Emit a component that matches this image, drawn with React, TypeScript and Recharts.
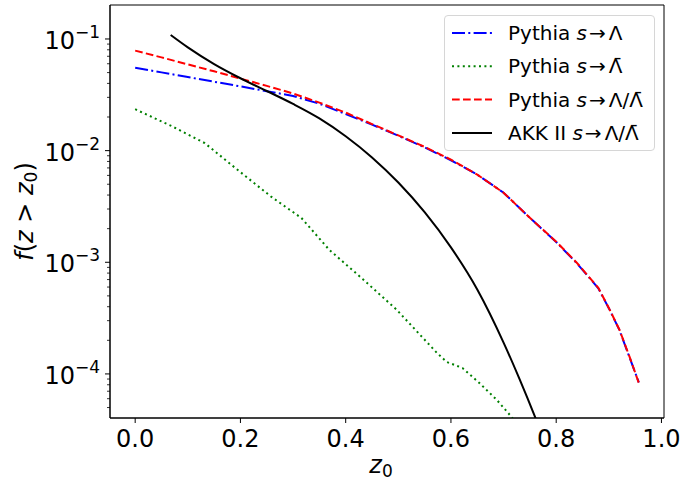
import React from 'react';
import { LineChart, Line, XAxis, YAxis, ReferenceArea, Legend } from 'recharts';

const FONT = '"DejaVu Sans", Verdana, sans-serif';

// Pythia s -> Lambda
const zLambda = [0, 0.05, 0.1, 0.15, 0.2, 0.25, 0.3, 0.35, 0.4, 0.45, 0.5, 0.55, 0.6, 0.65, 0.7, 0.75, 0.8, 0.84, 0.88, 0.9, 0.92, 0.94, 0.957];
const fLambda = [0.0553, 0.0502, 0.0456, 0.0414, 0.0376, 0.0341, 0.0309, 0.0263, 0.0213, 0.0171, 0.0136, 0.0107, 0.0082, 0.0061, 0.0042, 0.0025, 0.00152, 0.00097, 0.000585, 0.000388, 0.000248, 0.000138, 0.000084];

// Pythia s -> anti-Lambda
const zAntiLambda = [0, 0.069, 0.132, 0.195, 0.259, 0.316, 0.369, 0.432, 0.497, 0.573, 0.592, 0.622, 0.654, 0.687, 0.715, 0.73];
const fAntiLambda = [0.0235, 0.0166, 0.0117, 0.0067, 0.00385, 0.00249, 0.00129, 0.00071, 0.000375, 0.000155, 0.000128, 0.000113, 0.000083, 0.0000586, 0.0000413, 0.000033];

// Pythia s -> Lambda / anti-Lambda
const zBoth = [0, 0.05, 0.1, 0.15, 0.2, 0.25, 0.3, 0.35, 0.4, 0.45, 0.5, 0.55, 0.6, 0.65, 0.7, 0.75, 0.8, 0.84, 0.88, 0.9, 0.92, 0.94, 0.957];
const fBoth = [0.0786, 0.0684, 0.0592, 0.0513, 0.0442, 0.038, 0.0325, 0.0269, 0.0219, 0.0173, 0.0137, 0.0108, 0.0083, 0.0061, 0.0042, 0.0025, 0.00153, 0.00098, 0.00059, 0.00039, 0.00025, 0.00014, 0.000083];

// AKK II s -> Lambda / anti-Lambda
const zAkk = [0.0674, 0.1, 0.15, 0.2, 0.25, 0.3, 0.35, 0.4, 0.45, 0.5, 0.55, 0.6, 0.65, 0.7, 0.73, 0.76, 0.78];
const fAkk = [0.1086, 0.0841, 0.0596, 0.0445, 0.0342, 0.0262, 0.01945, 0.01346, 0.00869, 0.00518, 0.00281, 0.00136, 0.000571, 0.000191, 0.0000908, 0.000041, 0.0000234];

const xTicks = [0, 0.2, 0.4, 0.6, 0.8, 1.0];
const decades = [1e-5, 1e-4, 1e-3, 1e-2, 1e-1];
const minorSteps = [1, 2, 3, 4, 5, 6, 7, 8, 9];

const X_DOMAIN = [-0.04785, 1.00485];
const Y_DOMAIN = [4.03e-5, 0.2015];

const yTicks = decades
  .flatMap((d) => minorSteps.map((m) => m * d))
  .filter((v) => v >= Y_DOMAIN[0] && v <= Y_DOMAIN[1] * 0.99);

const toPoints = (zs: number[], fs: number[]) => zs.map((z, i) => ({ z, f: fs[i] }));

const series = [
  { key: 'lambda', data: toPoints(zLambda, fLambda), color: '#0000ff', dash: '13 3.3 2 3.3', name: 'Pythia', target: 'Λ' },
  { key: 'anti', data: toPoints(zAntiLambda, fAntiLambda), color: '#008000', dash: '2 3.4', name: 'Pythia', target: 'Λ\u0304' },
  { key: 'both', data: toPoints(zBoth, fBoth), color: '#ff0000', dash: '7.7 3.3', name: 'Pythia', target: 'Λ/Λ\u0304' },
  { key: 'akk', data: toPoints(zAkk, fAkk), color: '#000000', dash: undefined, name: 'AKK II', target: 'Λ/Λ\u0304' },
];

const XTick = ({ x, y, payload }: any) => (
  <g>
    <line x1={x} x2={x} y1={y} y2={y + 5} stroke="#000" strokeWidth={1} />
    <text x={x} y={y + 29} textAnchor="middle" fontSize={24} fontFamily={FONT} fill="#000">
      {payload.value.toFixed(1)}
    </text>
  </g>
);

const YTick = ({ x, y, payload }: any) => {
  const lg = Math.log10(payload.value);
  const major = Math.abs(lg - Math.round(lg)) < 1e-6;
  return (
    <g>
      <line x1={x - (major ? 5 : 3)} x2={x} y1={y} y2={y} stroke="#000" strokeWidth={major ? 1 : 0.8} />
      {major && (
        <text x={x - 10} y={y + 10} textAnchor="end" fontSize={24} fontFamily={FONT} fill="#000">
          <tspan>10</tspan>
          <tspan dy={-11} fontSize={17}>{'\u2212' + -Math.round(lg)}</tspan>
        </text>
      )}
    </g>
  );
};

const XLabel = ({ viewBox }: any) => (
  <text x={viewBox.x + viewBox.width / 2 - 6} y={viewBox.y + 55} textAnchor="middle" fontSize={24} fontFamily={FONT} fill="#000">
    <tspan fontStyle="italic">z</tspan>
    <tspan dy={4} fontSize={17}>0</tspan>
  </text>
);

const YLabel = ({ viewBox }: any) => (
  <text
    transform={`translate(${viewBox.x + 33}, ${viewBox.y + viewBox.height / 2}) rotate(-90)`}
    textAnchor="middle"
    fontSize={24}
    fontFamily={FONT}
    fill="#000"
  >
    <tspan fontStyle="italic">f</tspan>
    <tspan>(</tspan>
    <tspan fontStyle="italic">z</tspan>
    <tspan>{' > '}</tspan>
    <tspan fontStyle="italic">z</tspan>
    <tspan dy={4} fontSize={17}>0</tspan>
    <tspan dy={-4}>)</tspan>
  </text>
);

const LegendBox = () => (
  <div
    style={{
      width: 209,
      height: 134,
      border: '1px solid #d6d6d6',
      borderRadius: 4,
      background: 'rgba(255,255,255,0.8)',
    }}
  >
    <svg width={209} height={134}>
      {series.map((s, i) => {
        const cy = 17 + i * 33.3;
        return (
          <g key={s.key}>
            <line x1={7} x2={47} y1={cy} y2={cy} stroke={s.color} strokeWidth={2} strokeDasharray={s.dash} />
            <text x={63} y={cy + 7} fontSize={20} fontFamily={FONT} fill="#000">
              {s.name + ' '}
              <tspan fontStyle="italic">s</tspan>
              <tspan dx={2}>→</tspan>
              <tspan dx={3}>{s.target}</tspan>
            </text>
          </g>
        );
      })}
    </svg>
  </div>
);

export default function App() {
  return (
    <div style={{ position: 'absolute', left: 0, top: 0, background: '#fff' }}>
      <LineChart width={681} height={479} margin={{ top: 5, right: 17, bottom: 0, left: 0 }}>
        <XAxis
          type="number"
          dataKey="z"
          domain={X_DOMAIN}
          allowDataOverflow
          ticks={xTicks}
          interval={0}
          tickSize={0}
          tickMargin={0}
          tickLine={false}
          tick={<XTick />}
          axisLine={{ stroke: '#000', strokeWidth: 1 }}
          height={61}
          label={XLabel}
        />
        <YAxis
          type="number"
          dataKey="f"
          scale="log"
          domain={Y_DOMAIN}
          allowDataOverflow
          ticks={yTicks}
          interval={0}
          tickSize={0}
          tickMargin={0}
          tickLine={false}
          tick={<YTick />}
          axisLine={{ stroke: '#000', strokeWidth: 1 }}
          width={110}
          label={YLabel}
        />
        <ReferenceArea
          x1={X_DOMAIN[0]}
          x2={X_DOMAIN[1]}
          y1={Y_DOMAIN[0]}
          y2={Y_DOMAIN[1]}
          fill="none"
          stroke="#000"
          strokeWidth={1}
          ifOverflow="visible"
        />
        {series.map((s) => (
          <Line
            key={s.key}
            data={s.data}
            dataKey="f"
            type={s.key === 'akk' ? 'monotone' : 'linear'}
            stroke={s.color}
            strokeWidth={2}
            strokeDasharray={s.dash}
            dot={false}
            activeDot={false}
            isAnimationActive={false}
          />
        ))}
        <Legend
          layout="vertical"
          align="center"
          verticalAlign="middle"
          content={<LegendBox />}
          wrapperStyle={{ left: 444, top: 15, width: 211, height: 136 }}
        />
      </LineChart>
    </div>
  );
}
